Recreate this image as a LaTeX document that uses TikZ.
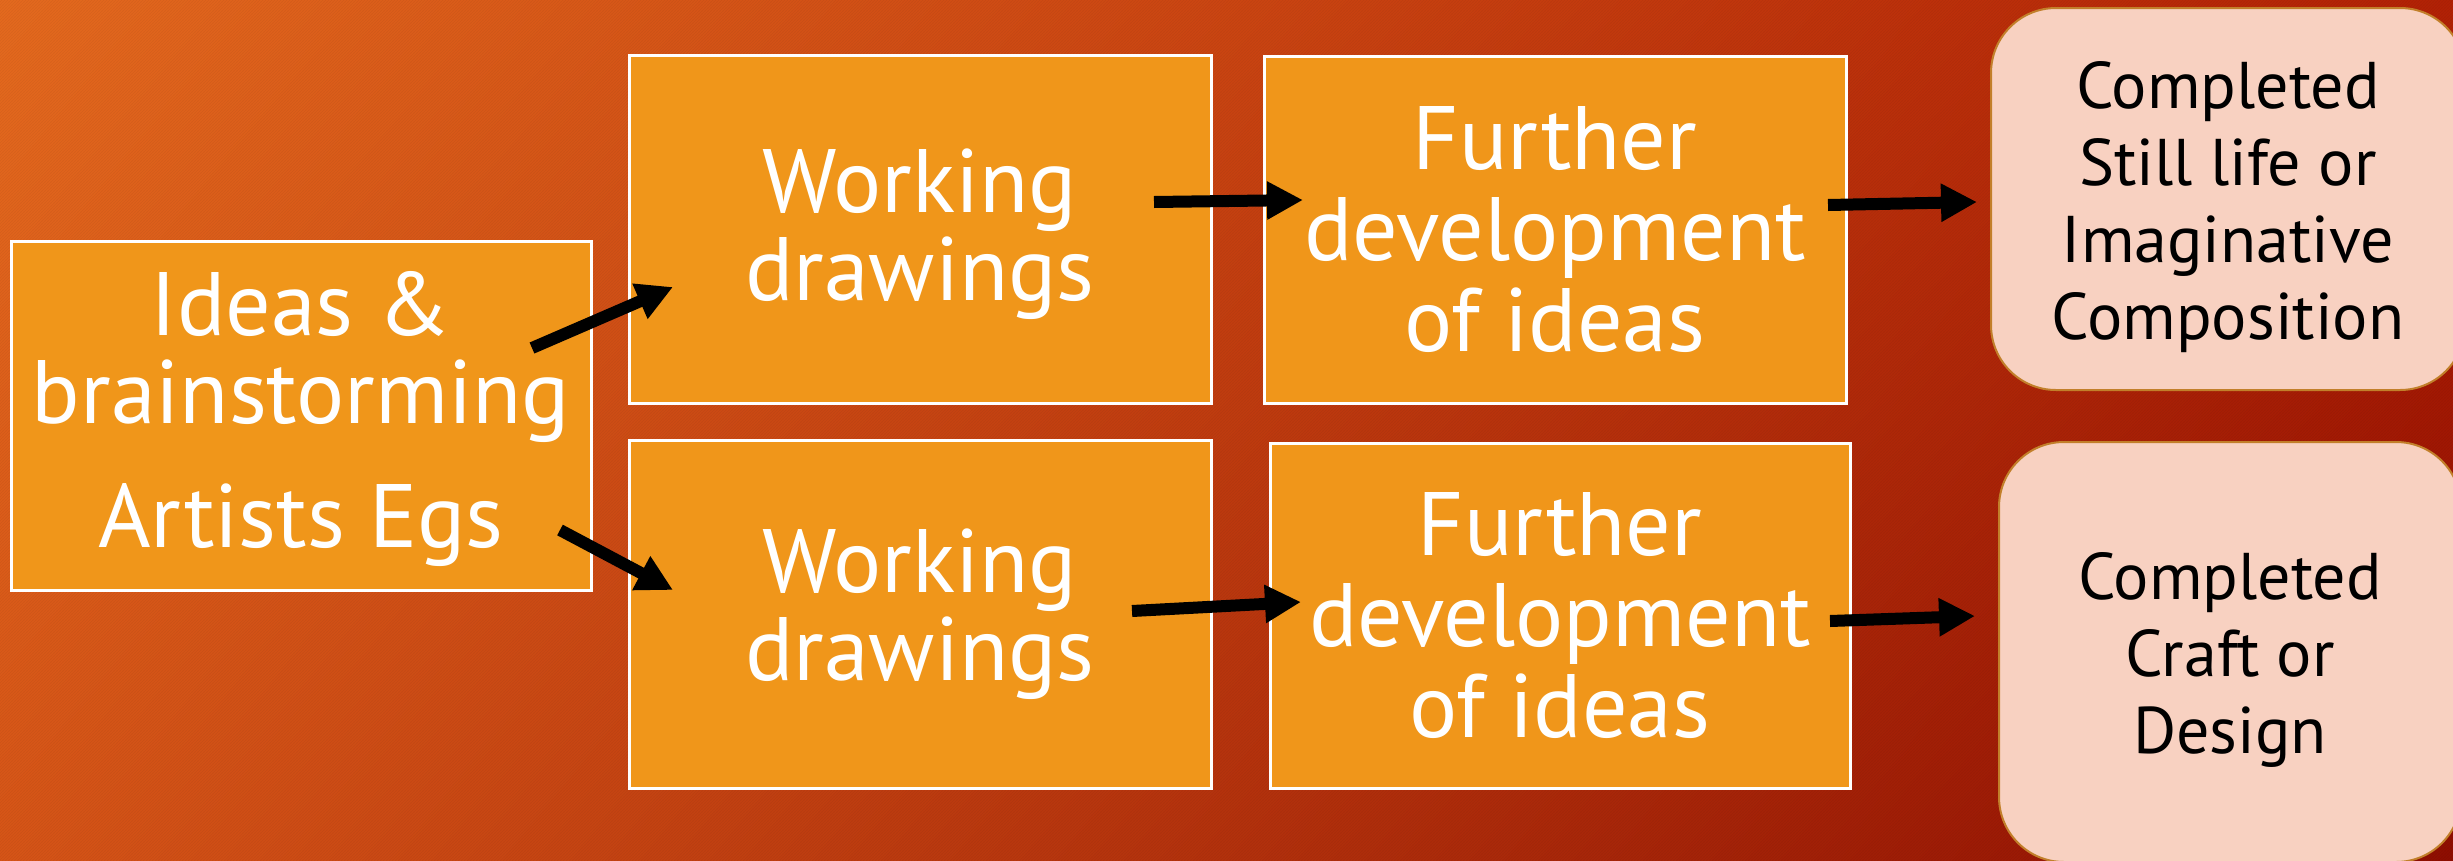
\documentclass[tikz,border=0pt]{standalone}
\usepackage{fontspec}
\setmainfont{PT Sans}
\usetikzlibrary{arrows.meta,patterns,shadings}
\definecolor{bgUL}{HTML}{E46A1F}
\definecolor{bgUR}{HTML}{B22206}
\definecolor{bgLL}{HTML}{D65518}
\definecolor{bgLR}{HTML}{8F0E02}
\definecolor{boxorange}{HTML}{F0961A}
\definecolor{boxpink}{HTML}{F8D1C1}
\definecolor{pinkedge}{HTML}{C27F2A}
\newcommand{\toppad}[1]{\rule{0pt}{#1}}
\begin{document}
\begin{tikzpicture}[x=1pt,y=-1pt,
  stage/.style={draw=white, line width=3pt, fill=boxorange, text=white, align=center, inner sep=0pt,
    font=\fontsize{90}{88}\selectfont},
  stagewide/.style={stage, font=\fontsize{90}{91}\selectfont},
  result/.style={draw=pinkedge, line width=2pt, fill=boxpink, text=black, align=center, inner sep=0pt,
    rounded corners=65pt, font=\fontsize{66}{77}\selectfont},
  flow/.style={line width=12pt, black, -{Triangle[length=36pt,width=36pt]}}]
\useasboundingbox (0,0) rectangle (2453,860);
\clip (0,0) rectangle (2453,860);
\shade[upper left=bgUL, upper right=bgUR, lower left=bgLL, lower right=bgLR] (0,0) rectangle (2453,860);
\fill[pattern=north east lines, pattern color=black, opacity=0.05] (0,0) rectangle (2453,860);

\node[stage, minimum width=580pt, minimum height=349pt] (ideas) at (301,415.5)
  {\toppad{71pt}Ideas \&\\ brainstorming\\[36pt] Artists Egs};
\node[stage, minimum width=582pt, minimum height=348pt] (work1) at (920,229) {\toppad{75pt}Working\\drawings};
\node[stagewide, minimum width=582pt, minimum height=347pt] (dev1) at (1555,229.5) {Further\\development\\of ideas};
\node[stage, minimum width=582pt, minimum height=348pt] (work2) at (920,614) {Working\\drawings};
\node[stagewide, minimum width=580pt, minimum height=345pt] (dev2) at (1560,615.5) {Further\\development\\of ideas};
\node[result, minimum width=474pt, minimum height=382pt] (done1) at (2228,199)
  {\toppad{64pt}Completed\\Still life or\\Imaginative\\Composition};
\node[result, minimum width=462pt, minimum height=420pt] (done2) at (2230,652)
  {\toppad{62pt}Completed\\Craft or\\Design};

\coordinate (a1s) at (532,348);  \coordinate (a1e) at (673,287);
\coordinate (a2s) at (560,530);  \coordinate (a2e) at (673,590);
\coordinate (a3s) at (1154,202); \coordinate (a3e) at (1303,200);
\coordinate (a4s) at (1828,205); \coordinate (a4e) at (1977,202);
\coordinate (a5s) at (1132,611); \coordinate (a5e) at (1301,602);
\coordinate (a6s) at (1830,621); \coordinate (a6e) at (1975,616);

\draw[flow] (a1s) -- (a1e);
\draw[flow] (a2s) -- (a2e);
\draw[flow] (a3s) -- (a3e);
\draw[flow] (a4s) -- (a4e);
\draw[flow] (a5s) -- (a5e);
\draw[flow] (a6s) -- (a6e);
\end{tikzpicture}
\end{document}
